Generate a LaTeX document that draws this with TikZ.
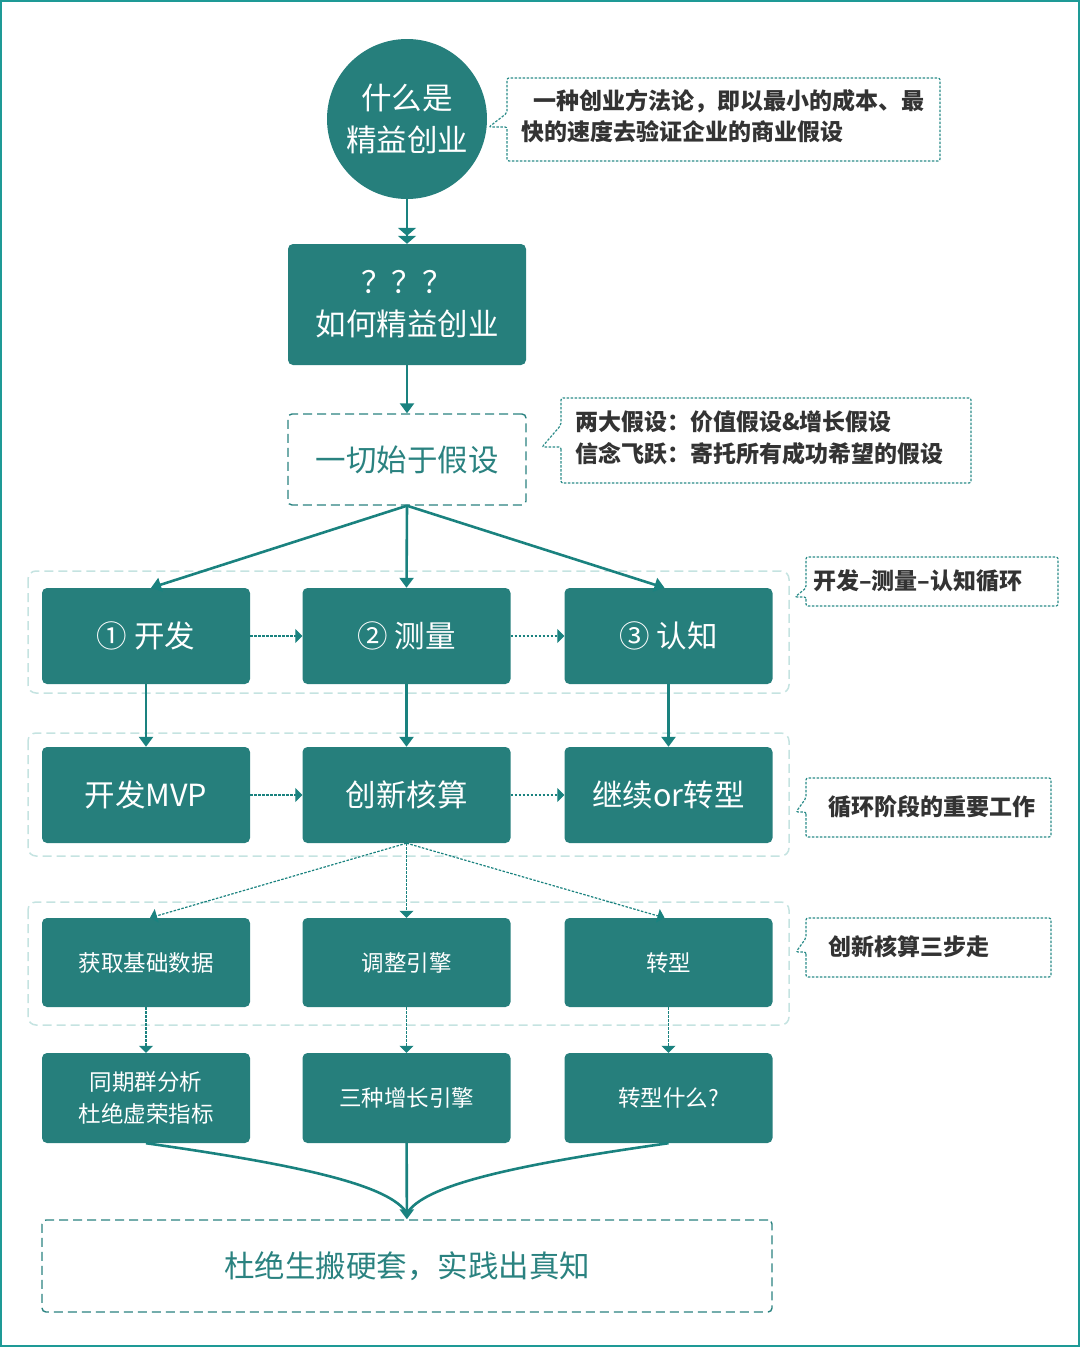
\documentclass[tikz,border=0pt]{standalone}
\usepackage{fontspec}
\setmainfont{Noto Sans CJK SC}
\usetikzlibrary{arrows.meta,calc}
\definecolor{boxc}{HTML}{267F7C}
\definecolor{linec}{HTML}{1A827F}
\definecolor{dashc}{HTML}{2B8C89}
\definecolor{grpc}{HTML}{C5E3E1}
\definecolor{txtc}{HTML}{333333}
\definecolor{tealtxt}{HTML}{2A8280}
\definecolor{framec}{HTML}{1E9A96}
\newcommand{\mycallout}[7]{%
  \draw[calloutline] (#1,#6) -- (#1,#4) -- (#3,#4) -- (#3,#2) -- (#1,#2) -- (#1,#5) -- (#7,#6) -- cycle;}
\tikzset{
  x=1pt, y=-1pt,
  box/.style={fill=boxc, rounded corners=5pt, minimum width=208pt, text=white, align=center, inner sep=0pt},
  bigtxt/.style={font=\fontsize{30.5}{42}\selectfont},
  smalltxt/.style={font=\fontsize{22.5}{32}\selectfont},
  solidarrow/.style={draw=linec, line width=2.6pt, -{Triangle[length=10pt,width=14pt]}},
  dotarrow/.style={draw=linec, line width=1.2pt, dash pattern=on 2.5pt off 1.5pt, -{Triangle[length=7pt,width=14pt]}},
  dashbox/.style={draw=tealtxt, line width=1.4pt, dash pattern=on 9pt off 5pt, rounded corners=4pt, fill=white, text=tealtxt, font=\fontsize{30.5}{42}\selectfont, inner sep=0pt, align=center},
  grpbox/.style={draw=grpc, line width=1.5pt, dash pattern=on 9pt off 5pt, rounded corners=8pt},
  calloutline/.style={draw=dashc, line width=1.2pt, dash pattern=on 2.5pt off 1.5pt, rounded corners=2pt, fill=white},
  ctext/.style={text=txtc, font=\bfseries\fontsize{23}{31.5}\selectfont, align=left, inner sep=0pt, anchor=west},
}
\begin{document}
\begin{tikzpicture}
\useasboundingbox (0,0) rectangle (1080,1347);
\draw[framec, line width=2pt] (1,1) rectangle (1079,1346);

% group boxes
\draw[grpbox] (28,571) rectangle (789,693);
\draw[grpbox] (28,733) rectangle (789,856);
\draw[grpbox] (28,902) rectangle (789,1025);

% top nodes
\node[circle, fill=boxc, minimum size=160pt, inner sep=0pt, text=white, align=center, bigtxt] (what) at (407,119) {什么是\\精益创业};
\node[box, bigtxt, minimum width=238pt, minimum height=121pt] (how) at (407,304.5) {？？？\\如何精益创业};
\node[dashbox, minimum width=238pt, minimum height=91pt] (assume) at (407,459.5) {一切始于假设};

% row 1
\node[box, bigtxt, minimum height=96pt] (b11) at (146,636) {① 开发};
\node[box, bigtxt, minimum height=96pt] (b12) at (406.5,636) {② 测量};
\node[box, bigtxt, minimum height=96pt] (b13) at (668.5,636) {③ 认知};
% row 2
\node[box, bigtxt, minimum height=96pt] (b21) at (146,795) {开发MVP};
\node[box, bigtxt, minimum height=96pt] (b22) at (406.5,795) {创新核算};
\node[box, bigtxt, minimum height=96pt] (b23) at (668.5,795) {继续or转型};
% row 3
\node[box, smalltxt, minimum height=89pt] (b31) at (146,962.5) {获取基础数据};
\node[box, smalltxt, minimum height=89pt] (b32) at (406.5,962.5) {调整引擎};
\node[box, smalltxt, minimum height=89pt] (b33) at (668.5,962.5) {转型};
% row 4
\node[box, smalltxt, minimum height=90pt] (b41) at (146,1098) {同期群分析\\杜绝虚荣指标};
\node[box, smalltxt, minimum height=90pt] (b42) at (406.5,1098) {三种增长引擎};
\node[box, smalltxt, minimum height=90pt] (b43) at (668.5,1098) {转型什么?};
% bottom
\node[dashbox, minimum width=730pt, minimum height=92pt] (final) at (407,1266) {杜绝生搬硬套，实践出真知};

% connectors
\draw[draw=linec, line width=2.6pt, -{Triangle[length=8pt,width=18pt] Triangle[length=8pt,width=18pt]}] (what) -- (how);
\draw[solidarrow] (how) -- (assume);
\draw[solidarrow] (assume.south) -- ($(b11.north)+(5,0)$);
\draw[solidarrow] (assume.south) -- (b12.north);
\draw[solidarrow] (assume.south) -- ($(b13.north)+(-4,0)$);
\draw[dotarrow] (b11) -- (b12);
\draw[dotarrow] (b12) -- (b13);
\draw[solidarrow] (b11) -- (b21);
\draw[solidarrow] (b12) -- (b22);
\draw[solidarrow] (b13) -- (b23);
\draw[dotarrow] (b21) -- (b22);
\draw[dotarrow] (b22) -- (b23);
\draw[dotarrow] (b22.south) -- ($(b31.north)+(4,0)$);
\draw[dotarrow] (b22.south) -- (b32.north);
\draw[dotarrow] (b22.south) -- ($(b33.north)+(-4,0)$);
\draw[dotarrow] (b31) -- (b41);
\draw[dotarrow] (b32) -- (b42);
\draw[dotarrow] (b33) -- (b43);
\coordinate (meet) at ($(final.north)+(0,-6)$);
\draw[draw=linec, line width=2.6pt] (b41.south) .. controls (300,1165) and (390,1185) .. (meet);
\draw[draw=linec, line width=2.6pt] (b43.south) .. controls (514,1165) and (424,1185) .. (meet);
\draw[solidarrow] (b42) -- (final);

% callouts
\mycallout{507}{78}{940}{161}{113}{127}{489}
\node[ctext] (c1) at (521,116) {\hspace*{12pt}一种创业方法论，即以最小的成本、最\\快的速度去验证企业的商业假设};
\mycallout{561}{398}{971}{483}{425}{447}{542}
\node[ctext] (c2) at (575,438) {两大假设：价值假设\&增长假设\\信念飞跃：寄托所有成功希望的假设};
\mycallout{806}{557}{1058}{606}{588}{597}{795}
\node[ctext] (c3) at (813,581) {开发–测量–认知循环};
\mycallout{806}{778}{1051}{837}{798}{812}{796}
\node[ctext] (c4) at (828,807) {循环阶段的重要工作};
\mycallout{806}{918}{1051}{977}{938}{952}{796}
\node[ctext] (c5) at (828,947) {创新核算三步走};
\end{tikzpicture}
\end{document}
